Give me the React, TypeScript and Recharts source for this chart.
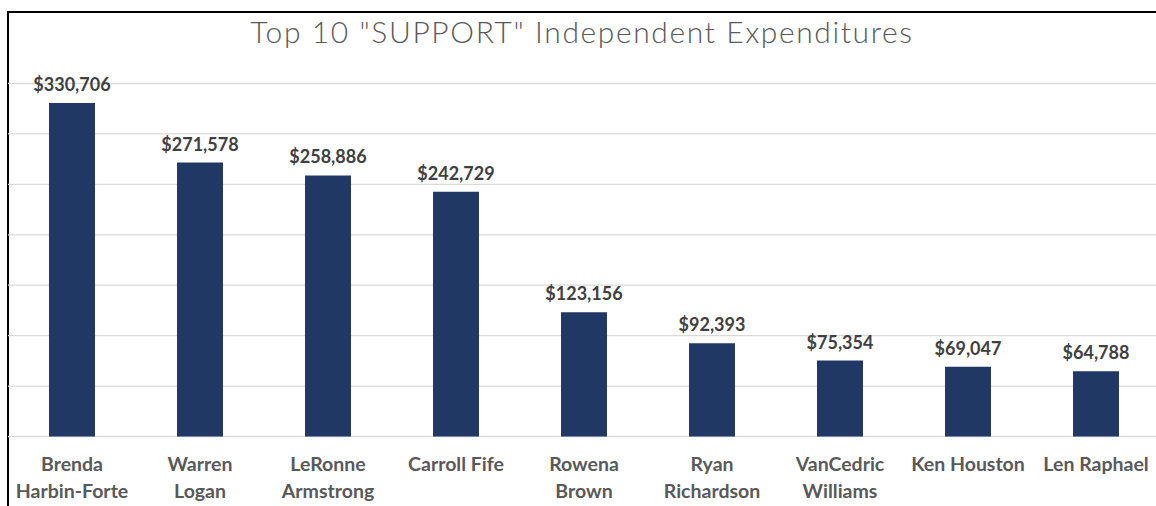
import React from 'react';
import { BarChart, Bar, XAxis, YAxis, CartesianGrid, LabelList } from 'recharts';

const CANDIDATES = [
  'Brenda Harbin-Forte',
  'Warren Logan',
  'LeRonne Armstrong',
  'Carroll Fife',
  'Rowena Brown',
  'Ryan Richardson',
  'VanCedric Williams',
  'Ken Houston',
  'Len Raphael',
];
// how each category label wraps under the axis
const TICK_LINES = [
  ['Brenda', 'Harbin-Forte'],
  ['Warren', 'Logan'],
  ['LeRonne', 'Armstrong'],
  ['Carroll Fife'],
  ['Rowena', 'Brown'],
  ['Ryan', 'Richardson'],
  ['VanCedric', 'Williams'],
  ['Ken Houston'],
  ['Len Raphael'],
];
const AMOUNTS = [330706, 271578, 258886, 242729, 123156, 92393, 75354, 69047, 64788];
const Y_TICKS = [0, 50000, 100000, 150000, 200000, 250000, 300000, 350000];

const data = CANDIDATES.map((name, i) => ({ name, amount: AMOUNTS[i] }));

const FONT = 'Lato, "Open Sans", sans-serif';

const NameTick = (props: any) => {
  const { x, y, index } = props;
  const lines = TICK_LINES[index] || [props.payload.value];
  return (
    <text x={x} y={y} textAnchor="middle" fill="#595959" fontFamily={FONT} fontWeight={700} fontSize={19.5}>
      {lines.map((l: string, i: number) => (
        <tspan key={i} x={x} dy={i === 0 ? 26 : 27}>{l}</tspan>
      ))}
    </text>
  );
};

const money = (v: any) => '$' + Number(v).toLocaleString('en-US');

export default function App() {
  return (
    <div style={{ position: 'fixed', left: 0, top: 0, width: 1156, height: 506, overflow: 'hidden', background: '#fff' }}>
      <div
        style={{
          position: 'absolute', left: 7, top: 11, width: 1300, height: 600,
          borderLeft: '2px solid #000', borderTop: '2px solid #000', boxSizing: 'border-box',
        }}
      />
      <div
        style={{
          position: 'absolute', left: 0, width: 1164, top: 13, textAlign: 'center',
          fontFamily: FONT, fontWeight: 300, fontSize: 30, letterSpacing: 1.6, color: '#595959', lineHeight: '36px',
        }}
      >
        Top 10 "SUPPORT" Independent Expenditures
      </div>
      <div style={{ position: 'absolute', left: 0, top: 0 }}>
        <BarChart width={1200} height={506} data={data} margin={{ top: 83.5, right: 40, bottom: 0, left: 8 }} barSize={46}>
          <CartesianGrid horizontal vertical={false} stroke="#d9d9d9" strokeWidth={1.3} />
          <YAxis hide domain={[0, 350000]} ticks={Y_TICKS} />
          <XAxis dataKey="name" height={69.5} axisLine={false} tickLine={false} interval={0} tick={<NameTick />} />
          <Bar dataKey="amount" fill="#203864" isAnimationActive={false}>
            <LabelList
              dataKey="amount"
              position="top"
              offset={12}
              formatter={money}
              fill="#404040"
              fontFamily={FONT}
              fontWeight={700}
              fontSize={18}
            />
          </Bar>
        </BarChart>
      </div>
    </div>
  );
}
